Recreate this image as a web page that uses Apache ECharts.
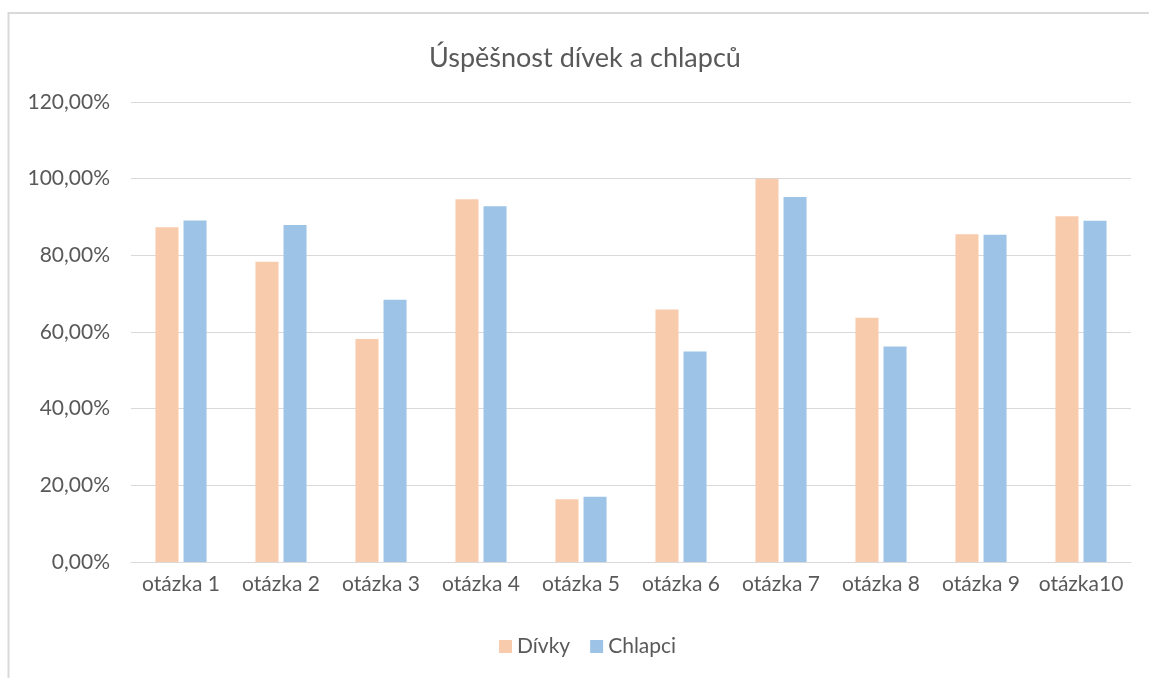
<!DOCTYPE html>
<html>
<head>
<meta charset="utf-8">
<script src="https://cdn.jsdelivr.net/npm/echarts@6/dist/echarts.min.js"></script>
<style>html,body{margin:0;padding:0;background:#fff;}#c{width:1149px;height:678px;}</style>
</head>
<body>
<div id="c"></div>
<script>
const categories = ['otázka 1','otázka 2','otázka 3','otázka 4','otázka 5','otázka 6','otázka 7','otázka 8','otázka 9','otázka10'];
const divky = [87.3, 78.3, 58.2, 94.6, 16.4, 65.9, 100.0, 63.7, 85.5, 90.2];
const chlapci = [89.1, 87.9, 68.4, 92.8, 17.0, 54.9, 95.2, 56.2, 85.4, 89.0];
const seriesNames = ['Dívky', 'Chlapci'];
const titleText = 'Úspěšnost dívek a chlapců';

const font = 'Lato, "Noto Sans", sans-serif';
const chart = echarts.init(document.getElementById('c'));
chart.setOption({
  animation: false,
  backgroundColor: '#fff',
  textStyle: { fontFamily: font },
  title: {
    text: titleText, left: 424, top: 40,
    textStyle: { fontFamily: font, fontSize: 27, fontWeight: 'normal', color: '#595959' }
  },
  legend: {
    data: seriesNames, bottom: 16, left: 494,
    itemWidth: 13, itemHeight: 13, itemGap: 20, icon: 'rect',
    textStyle: { fontFamily: font, fontSize: 21, color: '#595959' }
  },
  graphic: [{
    type: 'polyline', silent: true,
    shape: { points: [[8.5, 680], [8.5, 13], [1149, 13]] },
    style: { fill: 'none', stroke: '#d9d9d9', lineWidth: 2 }
  }],
  grid: { left: 131, right: 18, top: 102, bottom: 116 },
  xAxis: {
    type: 'category', data: categories,
    axisLine: { lineStyle: { color: '#d9d9d9', width: 1 } },
    axisTick: { show: false },
    axisLabel: { fontFamily: font, fontSize: 21, color: '#595959', margin: 12, interval: 0 }
  },
  yAxis: {
    type: 'value', min: 0, max: 120, interval: 20,
    axisLine: { show: false }, axisTick: { show: false },
    splitLine: { lineStyle: { color: '#d9d9d9', width: 1 } },
    axisLabel: {
      fontFamily: font, fontSize: 21, color: '#595959', margin: 21,
      formatter: v => v.toFixed(2).replace('.', ',') + '%'
    }
  },
  series: [
    { name: seriesNames[0], type: 'bar', data: divky, barWidth: 23, barGap: '22%',
      itemStyle: { color: '#F8CBAD' } },
    { name: seriesNames[1], type: 'bar', data: chlapci, barWidth: 23, barGap: '22%',
      itemStyle: { color: '#9DC3E6' } }
  ]
});
</script>
</body>
</html>
